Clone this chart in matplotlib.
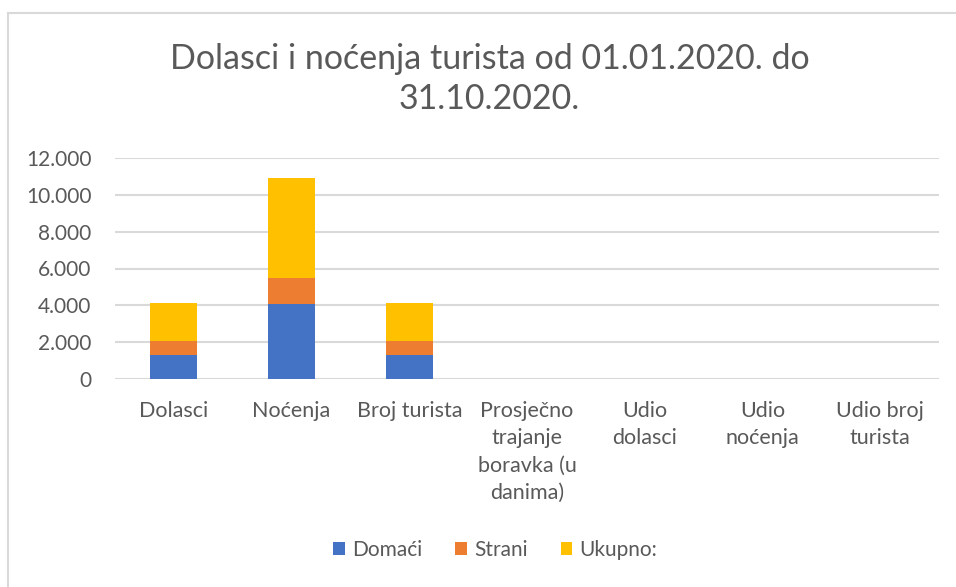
import numpy as np
import matplotlib.pyplot as plt
from matplotlib.lines import Line2D

plt.rcParams['font.family'] = ['Lato', 'DejaVu Sans']

kategorije = ['Dolasci', 'Noćenja', 'Broj turista', 'Prosječno\ntrajanje\nboravka (u\ndanima)',
              'Udio\ndolasci', 'Udio\nnoćenja', 'Udio broj\nturista']
domaci = np.array([1290, 4070, 1290, 0, 0, 0, 0])
strani = np.array([760, 1400, 760, 0, 0, 0, 0])
ukupno = np.array([2050, 5470, 2050, 0, 0, 0, 0])
y_ticks = [0, 2000, 4000, 6000, 8000, 10000, 12000]
y_labels = ['0', '2.000', '4.000', '6.000', '8.000', '10.000', '12.000']

siva = '#595959'
fig = plt.figure(figsize=(9.56, 5.87), dpi=100)
ax = fig.add_axes([115/956, 1-379/587, 824/956, 221/587])

x = np.arange(len(kategorije))
w = 0.4
ax.bar(x, domaci, w, color='#4472C4', label='Domaći', zorder=3)
ax.bar(x, strani, w, bottom=domaci, color='#ED7D31', label='Strani', zorder=3)
ax.bar(x, ukupno, w, bottom=domaci+strani, color='#FFC000', label='Ukupno:', zorder=3)

ax.set_xlim(-0.5, len(kategorije)-0.5)
ax.set_ylim(0, 12000)
ax.set_yticks(y_ticks)
ax.set_yticklabels(y_labels)
ax.set_xticks(x)
ax.set_xticklabels(kategorije, linespacing=1.45, va='top')
ax.tick_params(axis='y', length=0, pad=17, labelsize=15, labelcolor=siva)
ax.tick_params(axis='x', length=0, pad=16, labelsize=15.5, labelcolor=siva)
ax.grid(axis='y', color='#D9D9D9', linewidth=1.5, zorder=0)
for s in ax.spines.values():
    s.set_visible(False)

fig.suptitle('Dolasci i noćenja turista od 01.01.2020. do\n31.10.2020.',
             x=0.512, y=1-79/587, va='center', fontsize=24.5, color=siva, linespacing=1.33)

fig.legend(loc='center', bbox_to_anchor=(0.518, 1-550/587), ncol=3, frameon=False,
           fontsize=15, labelcolor=siva, handlelength=0.55, handleheight=0.55,
           handletextpad=0.35, columnspacing=1.6)

# okvir grafikona
fig.add_artist(Line2D([8/956, 1], [1-13/587, 1-13/587], color='#D9D9D9', linewidth=1.5))
fig.add_artist(Line2D([8/956, 8/956], [0, 1-13/587], color='#D9D9D9', linewidth=1.5))

fig.savefig('out.png', dpi=100)
